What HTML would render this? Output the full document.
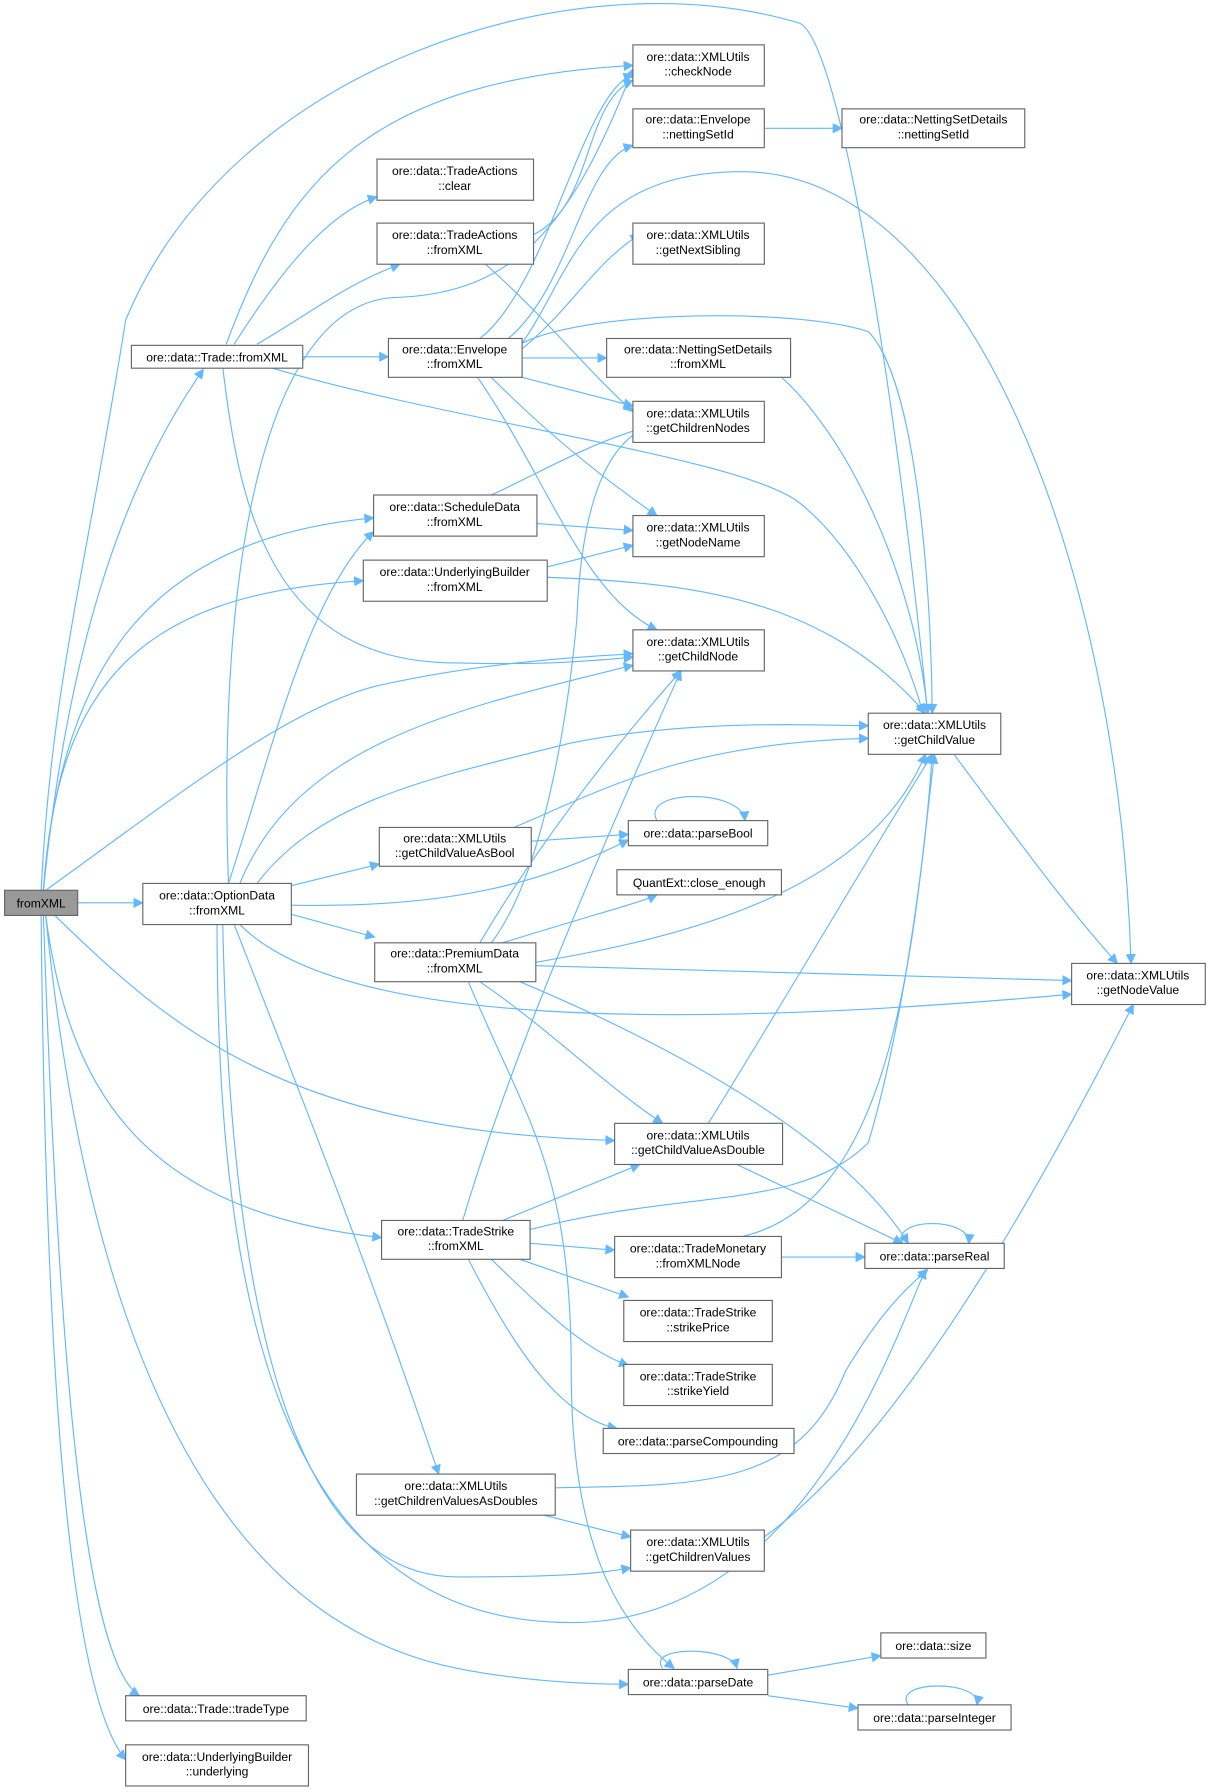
<!DOCTYPE html>
<html><head><meta charset="utf-8"><style>
html,body{margin:0;padding:0;background:#fff}
svg{display:block}
text{font-family:"Liberation Sans",Arial,sans-serif;font-size:10.6px;fill:#000;text-anchor:middle}
.n{fill:#fff;stroke:#666;stroke-width:1}
.e{fill:none;stroke:#63b8ff;stroke-width:1}
</style></head><body>
<svg width="1211" height="1792" viewBox="0 0 1060 1568" xmlns="http://www.w3.org/2000/svg">
<defs><marker id="a" viewBox="0 0 10 10" refX="9" refY="5" markerWidth="9" markerHeight="9" markerUnits="userSpaceOnUse" orient="auto"><path d="M0,0L10,5L0,10z" fill="#63b8ff"/></marker></defs>
<g class="e" marker-end="url(#a)">
<!-- fromXML -->
<path d="M36,779 C45,600 75,500 110,280 C200,60 500,-40 700,20 C740,40 790,400 812,624"/>
<path d="M38,779 C60,560 110,420 178,323"/>
<path d="M38,779 C55,560 150,470 327,453"/>
<path d="M38,779 C50,600 120,520 318,508"/>
<path d="M40,779 C150,700 250,620 330,600 C420,580 500,575 554,572"/>
<path d="M68,790 L125,790"/>
<path d="M48,801 C150,900 250,990 538,998"/>
<path d="M40,801 C60,950 120,1060 334,1083"/>
<path d="M40,801 C80,1200 200,1420 400,1460 C460,1472 520,1474 550,1474"/>
<path d="M38,801 C50,1150 70,1450 122,1484"/>
<path d="M36,801 C40,1200 60,1480 110,1540"/>
<!-- Trade::fromXML -->
<path d="M198,301 C250,160 320,70 554,57"/>
<path d="M205,301 C250,230 290,185 330,172"/>
<path d="M225,301 C270,275 300,250 350,231"/>
<path d="M265,312 L340,312"/>
<path d="M195,321 C210,450 240,580 400,580 C480,582 520,578 554,575"/>
<path d="M235,321 C400,370 650,400 700,440 C750,480 790,560 808,624"/>
<!-- TradeActions::fromXML -->
<path d="M467,205 C520,180 510,90 554,70"/>
<path d="M425,231 C480,280 510,320 554,360"/>
<!-- Envelope -->
<path d="M420,296 C480,250 510,80 554,65"/>
<path d="M445,296 C500,250 510,140 554,127"/>
<path d="M457,300 C500,240 510,150 650,150 C850,150 980,500 990,843"/>
<path d="M457,305 C500,270 520,230 560,205"/>
<path d="M457,313 L531,313"/>
<path d="M457,330 L554,355"/>
<path d="M430,330 C480,380 530,420 575,451"/>
<path d="M418,330 C480,420 510,520 575,551"/>
<path d="M457,300 C520,270 700,270 760,290 C800,330 815,500 816,624"/>
<path d="M669,112 L737,112"/>
<path d="M684,330 C740,380 800,500 812,624"/>
<!-- ScheduleData -->
<path d="M430,433 C480,410 520,385 575,371"/>
<path d="M470,458 L554,464"/>
<!-- UnderlyingBuilder -->
<path d="M479,496 L554,477"/>
<path d="M479,505 C600,510 720,520 810,624"/>
<!-- getChildValue -->
<path d="M835,660 C880,720 930,790 978,843"/>
<!-- getChildValueAsBool -->
<path d="M450,724 C530,690 600,650 760,646"/>
<path d="M465,736 L550,730"/>
<path d="M575,718 C560,690 650,690 652,718"/>
<!-- OptionData -->
<path d="M200,773 C190,500 230,260 350,260 C450,255 500,200 554,60"/>
<path d="M200,773 C240,650 270,520 327,465"/>
<path d="M210,773 C260,650 400,620 554,582"/>
<path d="M225,773 C280,700 380,680 500,650 C600,630 700,634 760,635"/>
<path d="M255,775 L332,756"/>
<path d="M255,792 C400,795 480,770 550,735"/>
<path d="M255,800 L328,820"/>
<path d="M210,809 C300,900 600,900 938,870"/>
<path d="M205,809 C260,950 320,1100 384,1290"/>
<path d="M195,809 C200,1050 230,1380 400,1380 C480,1380 520,1378 552,1372"/>
<path d="M190,809 C190,1100 230,1420 500,1420 C700,1420 780,1180 810,1111"/>
<!-- PremiumData -->
<path d="M430,825 C480,760 500,600 505,540 C510,420 540,380 575,370"/>
<path d="M420,825 C470,740 540,650 596,587"/>
<path d="M440,825 C520,800 560,790 575,783"/>
<path d="M469,842 C600,820 760,780 810,660"/>
<path d="M469,845 L938,858"/>
<path d="M420,859 C480,900 530,950 580,983"/>
<path d="M455,859 C600,920 740,1000 795,1088"/>
<path d="M410,859 C460,980 500,1020 500,1200 C500,1350 540,1420 590,1460"/>
<!-- getChildValueAsDouble -->
<path d="M620,983 C690,870 760,750 816,660"/>
<path d="M645,1019 L790,1088"/>
<!-- TradeStrike -->
<path d="M405,1068 C440,950 500,800 596,587"/>
<path d="M440,1068 L560,1019"/>
<path d="M464,1076 C600,1040 700,1060 760,1000 C790,900 810,750 816,660"/>
<path d="M464,1088 L538,1094"/>
<path d="M455,1102 L550,1135"/>
<path d="M430,1102 C480,1150 510,1180 550,1195"/>
<path d="M410,1102 C450,1180 490,1240 540,1250"/>
<!-- TradeMonetary -->
<path d="M684,1100 L757,1100"/>
<path d="M650,1082 C790,1050 800,800 818,660"/>
<!-- getChildrenValuesAsDoubles -->
<path d="M486,1302 C620,1300 700,1300 740,1200 C770,1150 790,1130 812,1111"/>
<path d="M476,1326 L552,1345"/>
<!-- getChildrenValues -->
<path d="M669,1345 C800,1250 930,1000 992,879"/>
<!-- self loops -->
<path d="M790,1088 C780,1065 850,1065 848,1088"/>
<path d="M580,1460 C565,1440 640,1440 645,1460"/>
<path d="M795,1492 C780,1470 860,1470 855,1492"/>
<path d="M672,1466 L771,1449"/>
<path d="M672,1484 L751,1495"/>
</g>
<g>
<rect x="4" y="779" width="64" height="22" fill="#999" stroke="#666"/><text x="36" y="794">fromXML</text>
<rect class="n" x="115" y="302" width="150" height="20"/><text x="190" y="316">ore::data::Trade::fromXML</text>
<rect class="n" x="330" y="139" width="137" height="36"/><text x="398" y="153">ore::data::TradeActions</text><text x="398" y="166">::clear</text>
<rect class="n" x="330" y="195" width="137" height="36"/><text x="398" y="209">ore::data::TradeActions</text><text x="398" y="222">::fromXML</text>
<rect class="n" x="340" y="296" width="117" height="34"/><text x="398" y="309">ore::data::Envelope</text><text x="398" y="322">::fromXML</text>
<rect class="n" x="554" y="39" width="115" height="36"/><text x="611" y="53">ore::data::XMLUtils</text><text x="611" y="66">::checkNode</text>
<rect class="n" x="554" y="95" width="115" height="34"/><text x="611" y="108">ore::data::Envelope</text><text x="611" y="121">::nettingSetId</text>
<rect class="n" x="737" y="95" width="160" height="34"/><text x="817" y="108">ore::data::NettingSetDetails</text><text x="817" y="121">::nettingSetId</text>
<rect class="n" x="554" y="195" width="115" height="36"/><text x="611" y="209">ore::data::XMLUtils</text><text x="611" y="222">::getNextSibling</text>
<rect class="n" x="531" y="296" width="161" height="34"/><text x="611" y="309">ore::data::NettingSetDetails</text><text x="611" y="322">::fromXML</text>
<rect class="n" x="554" y="351" width="115" height="36"/><text x="611" y="365">ore::data::XMLUtils</text><text x="611" y="378">::getChildrenNodes</text>
<rect class="n" x="327" y="433" width="143" height="36"/><text x="398" y="447">ore::data::ScheduleData</text><text x="398" y="460">::fromXML</text>
<rect class="n" x="554" y="451" width="115" height="36"/><text x="611" y="465">ore::data::XMLUtils</text><text x="611" y="478">::getNodeName</text>
<rect class="n" x="318" y="490" width="161" height="36"/><text x="398" y="504">ore::data::UnderlyingBuilder</text><text x="398" y="517">::fromXML</text>
<rect class="n" x="554" y="551" width="115" height="36"/><text x="611" y="565">ore::data::XMLUtils</text><text x="611" y="578">::getChildNode</text>
<rect class="n" x="760" y="624" width="116" height="36"/><text x="818" y="638">ore::data::XMLUtils</text><text x="818" y="651">::getChildValue</text>
<rect class="n" x="332" y="724" width="133" height="34"/><text x="398" y="737">ore::data::XMLUtils</text><text x="398" y="750">::getChildValueAsBool</text>
<rect class="n" x="550" y="718" width="122" height="22"/><text x="611" y="733">ore::data::parseBool</text>
<rect class="n" x="540" y="761" width="144" height="22"/><text x="612" y="776">QuantExt::close_enough</text>
<rect class="n" x="125" y="773" width="130" height="36"/><text x="190" y="787">ore::data::OptionData</text><text x="190" y="800">::fromXML</text>
<rect class="n" x="328" y="825" width="141" height="34"/><text x="398" y="838">ore::data::PremiumData</text><text x="398" y="851">::fromXML</text>
<rect class="n" x="938" y="843" width="117" height="36"/><text x="996" y="857">ore::data::XMLUtils</text><text x="996" y="870">::getNodeValue</text>
<rect class="n" x="538" y="983" width="147" height="36"/><text x="611" y="997">ore::data::XMLUtils</text><text x="611" y="1010">::getChildValueAsDouble</text>
<rect class="n" x="334" y="1068" width="130" height="34"/><text x="399" y="1081">ore::data::TradeStrike</text><text x="399" y="1094">::fromXML</text>
<rect class="n" x="538" y="1082" width="146" height="36"/><text x="611" y="1096">ore::data::TradeMonetary</text><text x="611" y="1109">::fromXMLNode</text>
<rect class="n" x="757" y="1088" width="122" height="22"/><text x="818" y="1103">ore::data::parseReal</text>
<rect class="n" x="546" y="1138" width="130" height="36"/><text x="611" y="1152">ore::data::TradeStrike</text><text x="611" y="1165">::strikePrice</text>
<rect class="n" x="546" y="1194" width="130" height="36"/><text x="611" y="1208">ore::data::TradeStrike</text><text x="611" y="1221">::strikeYield</text>
<rect class="n" x="528" y="1250" width="167" height="22"/><text x="611" y="1265">ore::data::parseCompounding</text>
<rect class="n" x="312" y="1290" width="174" height="36"/><text x="399" y="1304">ore::data::XMLUtils</text><text x="399" y="1317">::getChildrenValuesAsDoubles</text>
<rect class="n" x="552" y="1339" width="117" height="36"/><text x="611" y="1353">ore::data::XMLUtils</text><text x="611" y="1366">::getChildrenValues</text>
<rect class="n" x="771" y="1429" width="92" height="22"/><text x="817" y="1444">ore::data::size</text>
<rect class="n" x="550" y="1461" width="122" height="22"/><text x="611" y="1476">ore::data::parseDate</text>
<rect class="n" x="751" y="1492" width="134" height="22"/><text x="818" y="1507">ore::data::parseInteger</text>
<rect class="n" x="110" y="1484" width="158" height="22"/><text x="189" y="1499">ore::data::Trade::tradeType</text>
<rect class="n" x="110" y="1527" width="160" height="36"/><text x="190" y="1541">ore::data::UnderlyingBuilder</text><text x="190" y="1554">::underlying</text>
</g>
</svg>
</body></html>
